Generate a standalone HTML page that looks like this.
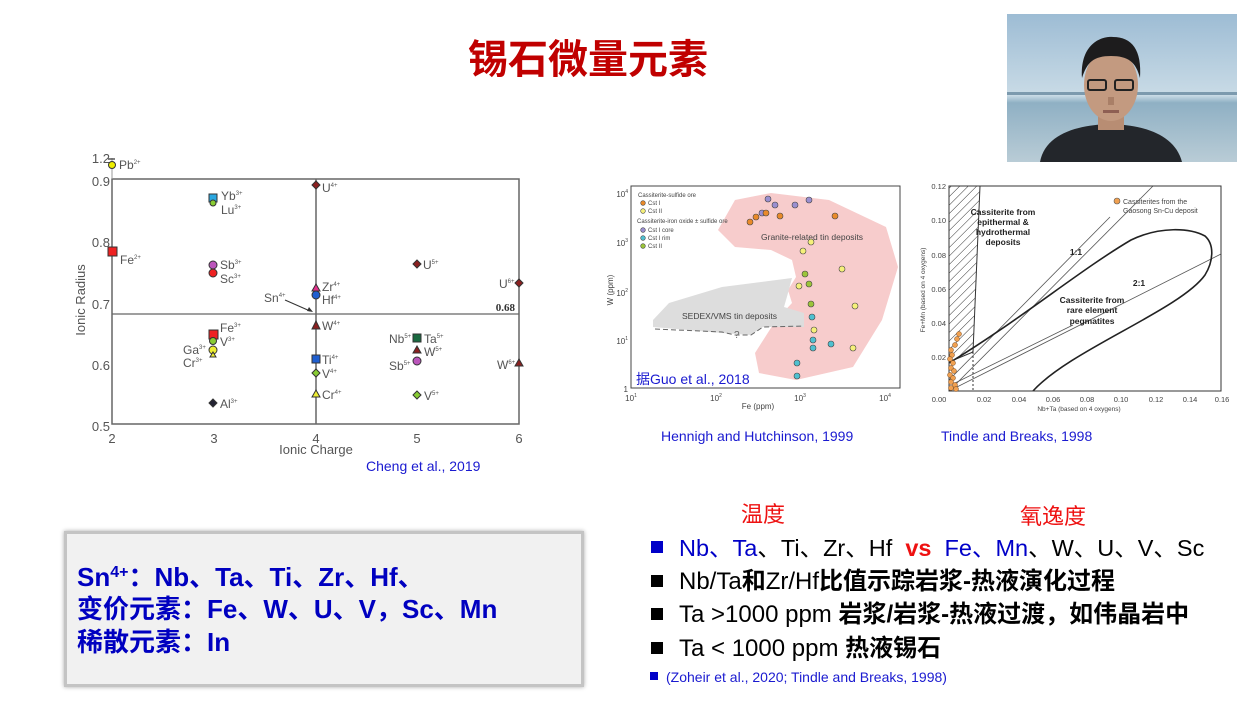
<!DOCTYPE html>
<html><head><meta charset="utf-8">
<style>
html,body{margin:0;padding:0;background:#fff;}
body{width:1254px;height:707px;overflow:hidden;position:relative;font-family:"Liberation Sans","Noto Sans CJK SC",sans-serif;}
svg{position:absolute;left:0;top:0;}
text{font-family:"Liberation Sans","Noto Sans CJK SC",sans-serif;}
.s{font-family:"Liberation Serif","Noto Serif CJK SC",serif;font-weight:bold;}
.box{position:absolute;left:64px;top:531px;width:514px;height:150px;background:#f1f1f1;border:3px solid #c4c4c4;box-shadow:0 0 4px #aaa;}
.box div{position:absolute;left:10px;font-weight:bold;font-size:26px;color:#0000c0;white-space:nowrap;line-height:32px;}
.r{position:absolute;white-space:nowrap;font-size:24px;line-height:28px;color:#000;}
.b{font-weight:bold}
.sq{position:absolute;width:12px;height:12px;}
</style></head><body>
<svg width="1254" height="707" viewBox="0 0 1254 707">
<defs>
<pattern id="hat" width="6" height="6" patternUnits="userSpaceOnUse" patternTransform="rotate(45)"><line x1="0" y1="0" x2="0" y2="6" stroke="#333" stroke-width="1"/></pattern>
<linearGradient id="sky" x1="0" y1="0" x2="0" y2="1"><stop offset="0" stop-color="#9dbcd4"/><stop offset="0.55" stop-color="#c9dbe6"/><stop offset="0.6" stop-color="#8fb0c4"/><stop offset="1" stop-color="#b9ccd6"/></linearGradient>
</defs>
<text x="588" y="73" text-anchor="middle" font-size="40" font-weight="bold" fill="#c00000">锡石微量元素</text>

<!-- photo -->
<rect x="1007" y="14" width="230" height="148" fill="url(#sky)"/>
<rect x="1007" y="92" width="230" height="3" fill="#7c9aae"/>
<path d="M1040 162 C1045 135 1075 125 1110 124 C1145 125 1175 135 1182 162 Z" fill="#23262b"/>
<rect x="1098" y="112" width="26" height="18" fill="#b88d73"/>
<ellipse cx="1111" cy="85" rx="27" ry="36" fill="#c39a80"/>
<path d="M1082 78 C1080 45 1100 36 1113 37 C1132 37 1142 50 1140 78 C1136 62 1128 56 1111 56 C1094 56 1087 62 1082 78 Z" fill="#1d1c1d"/>
<rect x="1088" y="80" width="18" height="10" rx="2" fill="none" stroke="#222" stroke-width="2"/>
<rect x="1115" y="80" width="18" height="10" rx="2" fill="none" stroke="#222" stroke-width="2"/>
<rect x="1108" y="97" width="6" height="8" fill="#a97f67"/>
<rect x="1103" y="110" width="16" height="3" fill="#8e5f53"/>

<!-- Chart 1 -->
<g font-size="12" fill="#555">
<rect x="112" y="179" width="407" height="245" fill="none" stroke="#666" stroke-width="1.5"/>
<line x1="316" y1="179" x2="316" y2="424" stroke="#666" stroke-width="1.5"/>
<line x1="112" y1="314" x2="519" y2="314" stroke="#666" stroke-width="1.2"/>
<line x1="112" y1="158" x2="112" y2="179" stroke="#999" stroke-width="1"/>
<line x1="108" y1="159" x2="115" y2="159" stroke="#555" stroke-width="1.5"/>
<text x="110" y="163" text-anchor="end" font-size="13">1.2</text>
<text x="110" y="186" text-anchor="end" font-size="13">0.9</text>
<text x="110" y="247" text-anchor="end" font-size="13">0.8</text>
<text x="110" y="309" text-anchor="end" font-size="13">0.7</text>
<text x="110" y="370" text-anchor="end" font-size="13">0.6</text>
<text x="110" y="431" text-anchor="end" font-size="13">0.5</text>
<text x="112" y="443" text-anchor="middle" font-size="13">2</text>
<text x="214" y="443" text-anchor="middle" font-size="13">3</text>
<text x="316" y="443" text-anchor="middle" font-size="13">4</text>
<text x="417" y="443" text-anchor="middle" font-size="13">5</text>
<text x="519" y="443" text-anchor="middle" font-size="13">6</text>
<text x="316" y="454" text-anchor="middle" font-size="13">Ionic Charge</text>
<text transform="translate(85,300) rotate(-90)" text-anchor="middle" font-size="13">Ionic Radius</text>
<text x="515" y="311" text-anchor="end" class="s" font-size="11" fill="#333">0.68</text>
<circle cx="112" cy="165" r="3.5" fill="#ee0" stroke="#333"/><text x="119" y="169">Pb<tspan font-size="6" dy="-5">2+</tspan></text>
<rect x="209" y="194" width="8" height="8" fill="#2aa7e0" stroke="#333"/><circle cx="213" cy="203" r="3" fill="#8c3" stroke="#333"/>
<text x="221" y="200">Yb<tspan font-size="6" dy="-5">3+</tspan></text><text x="221" y="214">Lu<tspan font-size="6" dy="-5">3+</tspan></text>
<rect x="108" y="247" width="9" height="9" fill="#e22" stroke="#333"/><text x="120" y="264">Fe<tspan font-size="6" dy="-5">2+</tspan></text>
<circle cx="213" cy="265" r="4" fill="#b5b" stroke="#333"/><circle cx="213" cy="273" r="4" fill="#e22" stroke="#333"/>
<text x="220" y="269">Sb<tspan font-size="6" dy="-5">3+</tspan></text><text x="220" y="283">Sc<tspan font-size="6" dy="-5">3+</tspan></text>
<path d="M316 181 l4 4 l-4 4 l-4 -4z" fill="#8b2020" stroke="#333"/><text x="322" y="192">U<tspan font-size="6" dy="-5">4+</tspan></text>
<path d="M316 284 l4 7 h-8z" fill="#e2308a" stroke="#333"/><circle cx="316" cy="295" r="4" fill="#1f5fd0" stroke="#333"/>
<text x="322" y="291">Zr<tspan font-size="6" dy="-5">4+</tspan></text><text x="322" y="304">Hf<tspan font-size="6" dy="-5">4+</tspan></text>
<text x="264" y="302">Sn<tspan font-size="6" dy="-5">4+</tspan></text>
<line x1="285" y1="300" x2="310" y2="311" stroke="#333" stroke-width="1"/><path d="M313 312 l-6 -1 l2 -4z" fill="#333"/>
<path d="M316 321 l4 8 h-8z" fill="#8b2020" stroke="#333"/><text x="322" y="330">W<tspan font-size="6" dy="-5">4+</tspan></text>
<rect x="312" y="355" width="8" height="8" fill="#1f5fd0" stroke="#333"/><text x="322" y="364">Ti<tspan font-size="6" dy="-5">4+</tspan></text>
<path d="M316 369 l4 4 l-4 4 l-4 -4z" fill="#8c3" stroke="#333"/><text x="322" y="378">V<tspan font-size="6" dy="-5">4+</tspan></text>
<path d="M316 390 l4 7 h-8z" fill="#ee3" stroke="#333"/><text x="322" y="399">Cr<tspan font-size="6" dy="-5">4+</tspan></text>
<rect x="209" y="330" width="9" height="9" fill="#e22" stroke="#333"/><circle cx="213" cy="341" r="3.5" fill="#8c3" stroke="#333"/>
<circle cx="213" cy="350" r="4" fill="#ee3" stroke="#333"/><path d="M213 352 l3 5 h-6z" fill="#ee3" stroke="#333"/>
<text x="220" y="332">Fe<tspan font-size="6" dy="-5">3+</tspan></text><text x="220" y="346">V<tspan font-size="6" dy="-5">3+</tspan></text>
<text x="183" y="354">Ga<tspan font-size="6" dy="-5">3+</tspan></text><text x="183" y="367">Cr<tspan font-size="6" dy="-5">3+</tspan></text>
<path d="M213 399 l4 4 l-4 4 l-4 -4z" fill="#223" stroke="#333"/><text x="220" y="408">Al<tspan font-size="6" dy="-5">3+</tspan></text>
<path d="M417 260 l4 4 l-4 4 l-4 -4z" fill="#8b2020" stroke="#333"/><text x="423" y="269">U<tspan font-size="6" dy="-5">5+</tspan></text>
<path d="M519 279 l4 4 l-4 4 l-4 -4z" fill="#8b2020" stroke="#333"/><text x="499" y="288">U<tspan font-size="6" dy="-5">6+</tspan></text>
<rect x="413" y="334" width="8" height="8" fill="#1a6a40" stroke="#333"/><text x="389" y="343">Nb<tspan font-size="6" dy="-5">5+</tspan></text><text x="424" y="343">Ta<tspan font-size="6" dy="-5">5+</tspan></text>
<path d="M417 346 l4 7 h-8z" fill="#8b2020" stroke="#333"/><text x="424" y="356">W<tspan font-size="6" dy="-5">5+</tspan></text>
<circle cx="417" cy="361" r="4" fill="#b5b" stroke="#333"/><text x="389" y="370">Sb<tspan font-size="6" dy="-5">5+</tspan></text>
<path d="M417 391 l4 4 l-4 4 l-4 -4z" fill="#8c3" stroke="#333"/><text x="424" y="400">V<tspan font-size="6" dy="-5">5+</tspan></text>
<path d="M519 359 l4 7 h-8z" fill="#8b2020" stroke="#333"/><text x="497" y="369">W<tspan font-size="6" dy="-5">6+</tspan></text>
</g>
<text x="366" y="471" font-size="14" fill="#1a1ad0">Cheng et al., 2019</text>

<!-- Chart 2 -->
<g font-size="7" fill="#444">
<path d="M718 230 L735 200 L771 193 L829 200 L886 227 L898 267 L882 320 L853 367 L796 380 L759 373 L755 353 L776 320 L792 303 L788 290 L796 277 L792 260 L771 250 L735 247 Z" fill="#f7cccc"/>
<path d="M653 320 L669 303 L722 287 L792 278 L788 293 L784 307 L804 313 L804 327 L763 327 L751 335 L722 333 L653 327 Z" fill="#ddd"/>
<polyline points="655,329 722,332 735,335 751,335 763,327 804,326" fill="none" stroke="#666" stroke-dasharray="5,3"/>
<text x="734" y="338" font-size="10" fill="#666">?</text>
<rect x="631" y="186" width="269" height="202" fill="none" stroke="#444" stroke-width="1"/>
<text x="761" y="240" font-size="8.5">Granite-related tin deposits</text>
<text x="682" y="319" font-size="8.5">SEDEX/VMS tin deposits</text>
<g stroke="#444" stroke-width="0.6">
<circle cx="768" cy="199" r="3" fill="#9a8fd0"/><circle cx="775" cy="205" r="3" fill="#9a8fd0"/><circle cx="795" cy="205" r="3" fill="#9a8fd0"/><circle cx="809" cy="200" r="3" fill="#9a8fd0"/><circle cx="762" cy="213" r="3" fill="#9a8fd0"/>
<circle cx="750" cy="222" r="3" fill="#e98a2a"/><circle cx="756" cy="217" r="3" fill="#e98a2a"/><circle cx="766" cy="213" r="3" fill="#e98a2a"/><circle cx="780" cy="216" r="3" fill="#e98a2a"/><circle cx="835" cy="216" r="3" fill="#e98a2a"/>
<circle cx="811" cy="242" r="3" fill="#f5f07a"/><circle cx="803" cy="251" r="3" fill="#f5f07a"/><circle cx="842" cy="269" r="3" fill="#f5f07a"/><circle cx="799" cy="286" r="3" fill="#f5f07a"/><circle cx="855" cy="306" r="3" fill="#f5f07a"/><circle cx="814" cy="330" r="3" fill="#f5f07a"/><circle cx="853" cy="348" r="3" fill="#f5f07a"/>
<circle cx="805" cy="274" r="3" fill="#9bc43a"/><circle cx="809" cy="284" r="3" fill="#9bc43a"/><circle cx="811" cy="304" r="3" fill="#9bc43a"/>
<circle cx="812" cy="317" r="3" fill="#4fc0d0"/><circle cx="813" cy="340" r="3" fill="#4fc0d0"/><circle cx="813" cy="348" r="3" fill="#4fc0d0"/><circle cx="831" cy="344" r="3" fill="#4fc0d0"/><circle cx="797" cy="363" r="3" fill="#4fc0d0"/><circle cx="797" cy="376" r="3" fill="#4fc0d0"/>
<circle cx="643" cy="203" r="2.3" fill="#e98a2a"/><circle cx="643" cy="211" r="2.3" fill="#f5f07a"/><circle cx="643" cy="230" r="2.3" fill="#9a8fd0"/><circle cx="643" cy="238" r="2.3" fill="#4fc0d0"/><circle cx="643" cy="246" r="2.3" fill="#9bc43a"/>
</g>
<text x="638" y="197" font-size="6">Cassiterite-sulfide ore</text>
<text x="648" y="205" font-size="6">Cst I</text><text x="648" y="213" font-size="6">Cst II</text>
<text x="637" y="223" font-size="6">Cassiterite-iron oxide ± sulfide ore</text>
<text x="648" y="232" font-size="6">Cst I core</text><text x="648" y="240" font-size="6">Cst I rim</text><text x="648" y="248" font-size="6">Cst II</text>
<text x="628" y="197" text-anchor="end" font-size="8">10<tspan font-size="5" dy="-4">4</tspan></text>
<text x="628" y="246" text-anchor="end" font-size="8">10<tspan font-size="5" dy="-4">3</tspan></text>
<text x="628" y="296" text-anchor="end" font-size="8">10<tspan font-size="5" dy="-4">2</tspan></text>
<text x="628" y="344" text-anchor="end" font-size="8">10<tspan font-size="5" dy="-4">1</tspan></text>
<text x="628" y="392" text-anchor="end" font-size="8">1</text>
<text x="631" y="401" text-anchor="middle" font-size="8">10<tspan font-size="5" dy="-4">1</tspan></text>
<text x="716" y="401" text-anchor="middle" font-size="8">10<tspan font-size="5" dy="-4">2</tspan></text>
<text x="800" y="401" text-anchor="middle" font-size="8">10<tspan font-size="5" dy="-4">3</tspan></text>
<text x="885" y="401" text-anchor="middle" font-size="8">10<tspan font-size="5" dy="-4">4</tspan></text>
<text x="758" y="409" text-anchor="middle" font-size="8">Fe (ppm)</text>
<text transform="translate(613,290) rotate(-90)" text-anchor="middle" font-size="8">W (ppm)</text>
</g>
<text x="636" y="384" font-size="14" fill="#1a1ad0">据Guo et al., 2018</text>
<text x="661" y="441" font-size="14" fill="#1a1ad0">Hennigh and Hutchinson, 1999</text>

<!-- Chart 3 -->
<g font-size="7.5" fill="#444">
<path d="M949 186 L980 186 L973 352 L949 362 Z" fill="url(#hat)" stroke="#333" stroke-width="1"/>
<rect x="985" y="203" width="55" height="45" fill="#fff"/>
<line x1="973" y1="352" x2="973" y2="391" stroke="#333" stroke-dasharray="2,2"/>
<line x1="949" y1="391" x2="1153" y2="186" stroke="#555" stroke-width="0.8"/>
<line x1="949" y1="391" x2="1221" y2="254" stroke="#555" stroke-width="0.8"/>
<line x1="949" y1="380" x2="1110" y2="217" stroke="#555" stroke-width="0.8"/>
<line x1="955" y1="383" x2="1073" y2="325" stroke="#555" stroke-width="0.8"/>
<path d="M949 363 C1020 320 1080 270 1131 240 C1160 226 1190 228 1205 236 C1215 245 1213 262 1205 275 C1180 310 1070 350 1033 391" fill="none" stroke="#222" stroke-width="1.6"/>
<rect x="949" y="186" width="272" height="205" fill="none" stroke="#333" stroke-width="1"/>
<g class="s" font-size="8.5" fill="#222" text-anchor="middle">
<text x="1003" y="215">Cassiterite from</text><text x="1003" y="225">epithermal &amp;</text><text x="1003" y="235">hydrothermal</text><text x="1003" y="245">deposits</text>
<text x="1076" y="255">1:1</text><text x="1139" y="286">2:1</text>
<text x="1092" y="303">Cassiterite from</text><text x="1092" y="313">rare element</text><text x="1092" y="324">pegmatites</text>
</g>
<circle cx="1117" cy="201" r="3" fill="#f0a050" stroke="#555" stroke-width="0.6"/>
<text x="1123" y="204" font-size="7">Cassiterites from the</text><text x="1123" y="213" font-size="7">Gaosong Sn-Cu deposit</text>
<g fill="#f0a050" stroke="#7a4a20" stroke-width="0.5">
<circle cx="957" cy="339" r="2.5"/><circle cx="955" cy="345" r="2.5"/><circle cx="951" cy="350" r="2.5"/><circle cx="952" cy="355" r="2.5"/><circle cx="950" cy="359" r="2.5"/><circle cx="953" cy="363" r="2.5"/><circle cx="951" cy="368" r="2.5"/><circle cx="954" cy="371" r="2.5"/><circle cx="950" cy="375" r="2.5"/><circle cx="953" cy="378" r="2.5"/><circle cx="951" cy="382" r="2.5"/><circle cx="955" cy="385" r="2.5"/><circle cx="951" cy="388" r="2.5"/><circle cx="956" cy="389" r="2.5"/><circle cx="959" cy="334" r="2.5"/>
</g>
<text x="946" y="189" text-anchor="end">0.12</text><text x="946" y="223" text-anchor="end">0.10</text><text x="946" y="258" text-anchor="end">0.08</text><text x="946" y="292" text-anchor="end">0.06</text><text x="946" y="326" text-anchor="end">0.04</text><text x="946" y="360" text-anchor="end">0.02</text>
<text x="939" y="402" text-anchor="middle">0.00</text><text x="984" y="402" text-anchor="middle">0.02</text><text x="1019" y="402" text-anchor="middle">0.04</text><text x="1053" y="402" text-anchor="middle">0.06</text><text x="1087" y="402" text-anchor="middle">0.08</text><text x="1121" y="402" text-anchor="middle">0.10</text><text x="1156" y="402" text-anchor="middle">0.12</text><text x="1190" y="402" text-anchor="middle">0.14</text><text x="1222" y="402" text-anchor="middle">0.16</text>
<text x="1079" y="411" text-anchor="middle" font-size="6.5">Nb+Ta (based on 4 oxygens)</text>
<text transform="translate(925,290) rotate(-90)" text-anchor="middle" font-size="6.5">Fe+Mn (based on 4 oxygens)</text>
</g>
<text x="941" y="441" font-size="14" fill="#1a1ad0">Tindle and Breaks, 1998</text>

<text x="741" y="522" font-size="22" fill="#ee1111">温度</text>
<text x="1020" y="524" font-size="22" fill="#ee1111">氧逸度</text>
</svg>

<div class="box">
<div style="top:27px">Sn<sup style="font-size:16px;vertical-align:9px;line-height:0">4+</sup>：Nb、Ta、Ti、Zr、Hf、</div>
<div style="top:59px">变价元素：Fe、W、U、V，Sc、Mn</div>
<div style="top:92px">稀散元素：In</div>
</div>

<div class="sq" style="left:651px;top:541px;background:#0000c8"></div>
<div class="r" style="left:679px;top:534px;font-size:23.5px"><span style="color:#0000c8">Nb、Ta</span>、Ti、Zr、Hf&nbsp;&nbsp;<span style="color:#ee1111" class="b">vs</span>&nbsp;&nbsp;<span style="color:#0000c8">Fe、Mn</span>、W、U、V、Sc</div>
<div class="sq" style="left:651px;top:575px;background:#000"></div>
<div class="r" style="left:679px;top:568px">Nb/Ta<span class="b">和</span>Zr/Hf<span class="b">比值示踪岩浆-热液演化过程</span></div>
<div class="sq" style="left:651px;top:608px;background:#000"></div>
<div class="r" style="left:679px;top:601px">Ta &gt;1000 ppm <span class="b">岩浆/岩浆-热液过渡，如伟晶岩中</span></div>
<div class="sq" style="left:651px;top:642px;background:#000"></div>
<div class="r" style="left:679px;top:635px">Ta &lt; 1000 ppm <span class="b">热液锡石</span></div>
<div class="sq" style="left:650px;top:672px;width:8px;height:8px;background:#0000c8"></div>
<div class="r" style="left:666px;top:668px;font-size:14px;line-height:18px;color:#1a1ad0">(Zoheir et al., 2020; Tindle and Breaks, 1998)</div>
</body></html>
